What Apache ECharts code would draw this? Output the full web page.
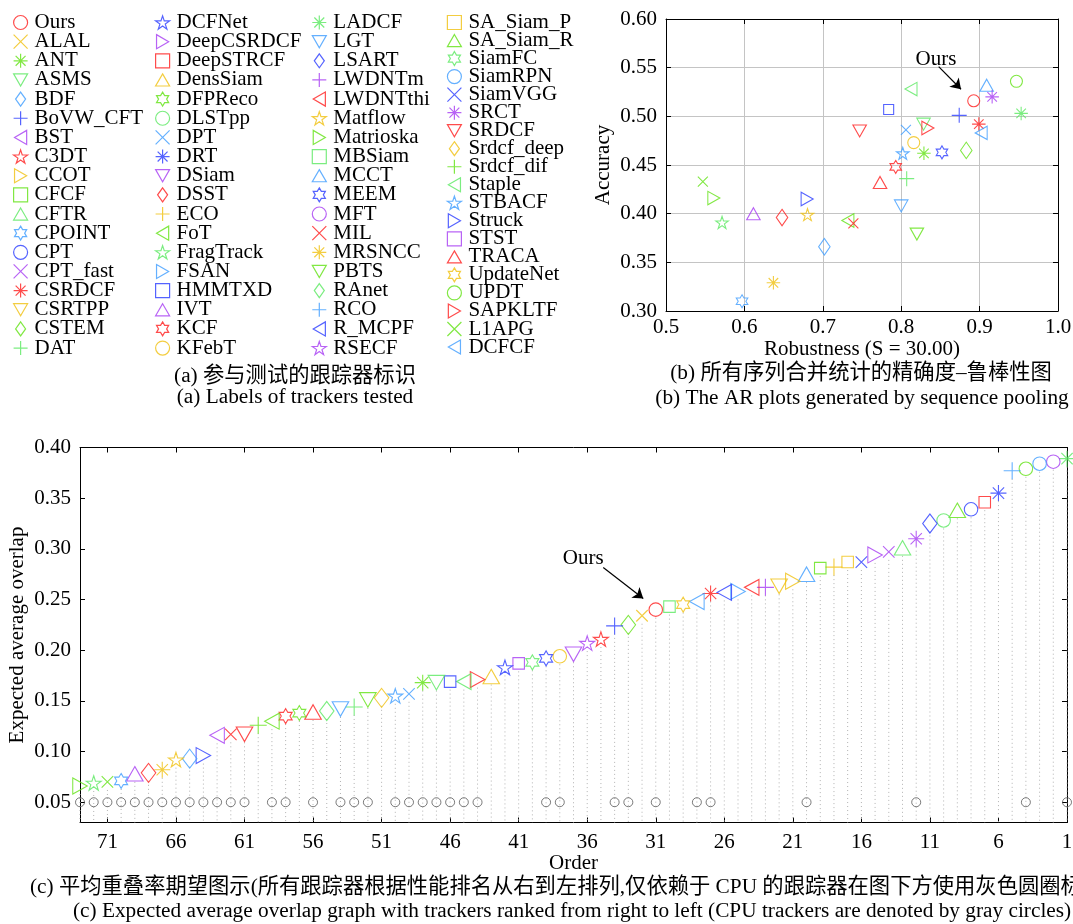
<!DOCTYPE html>
<html><head><meta charset="utf-8">
<script src="https://cdn.jsdelivr.net/npm/echarts@6/dist/echarts.min.js"></script>
<style>html,body{margin:0;padding:0;background:#fff}#c{width:1073px;height:924px}</style>
</head><body><div id="c"></div>
<script>
// ---------------- DATA ----------------
const legendCol1 = ['Ours','ALAL','ANT','ASMS','BDF','BoVW_CFT','BST','C3DT','CCOT','CFCF','CFTR','CPOINT','CPT','CPT_fast','CSRDCF','CSRTPP','CSTEM','DAT'];
const legendCol2 = ['DCFNet','DeepCSRDCF','DeepSTRCF','DensSiam','DFPReco','DLSTpp','DPT','DRT','DSiam','DSST','ECO','FoT','FragTrack','FSAN','HMMTXD','IVT','KCF','KFebT'];
const legendCol3 = ['LADCF','LGT','LSART','LWDNTm','LWDNTthi','Matflow','Matrioska','MBSiam','MCCT','MEEM','MFT','MIL','MRSNCC','PBTS','RAnet','RCO','R_MCPF','RSECF'];
const legendCol4 = ['SA_Siam_P','SA_Siam_R','SiamFC','SiamRPN','SiamVGG','SRCT','SRDCF','Srdcf_deep','Srdcf_dif','Staple','STBACF','Struck','STST','TRACA','UpdateNet','UPDT','SAPKLTF','L1APG','DCFCF'];

// EAO ranking (rank 1 .. 73)
const eaoOrder = ['LADCF','MFT','SiamRPN','UPDT','RCO','DRT','DeepSTRCF','CPT','SA_Siam_R','DLSTpp',
  'LSART','SRCT','CFTR','CPT_fast','DeepCSRDCF','SiamVGG','SA_Siam_P','ECO','CFCF','MCCT',
  'CCOT','CSRTPP','LWDNTm','LWDNTthi','FSAN','R_MCPF','CSRDCF','DCFCF','UpdateNet','MBSiam',
  'Ours','ALAL','CSTEM','BoVW_CFT','C3DT','RSECF','DSiam','KFebT','MEEM','SiamFC',
  'STST','DCFNet','DensSiam','SAPKLTF','Staple','HMMTXD','ASMS','ANT','DPT','STBACF',
  'Srdcf_deep','PBTS','DAT','LGT','RAnet','TRACA','DFPReco','KCF','FoT','Srdcf_dif',
  'SRDCF','MIL','BST','Struck','BDF','Matflow','MRSNCC','DSST','IVT','CPOINT',
  'L1APG','FragTrack','Matrioska'];
const eaoValues = [0.389,0.386,0.384,0.379,0.377,0.355,0.346,0.339,0.338,0.328,
  0.325,0.310,0.301,0.297,0.294,0.287,0.287,0.282,0.281,0.275,
  0.268,0.263,0.262,0.262,0.258,0.257,0.256,0.248,0.245,0.243,
  0.240,0.234,0.225,0.224,0.211,0.207,0.196,0.194,0.192,0.188,
  0.187,0.183,0.174,0.171,0.169,0.169,0.168,0.168,0.157,0.155,
  0.153,0.151,0.144,0.142,0.140,0.139,0.138,0.135,0.130,0.126,
  0.117,0.117,0.116,0.096,0.093,0.092,0.082,0.079,0.078,0.071,
  0.070,0.069,0.066];
// ranks of trackers that run on CPU only (gray circles)
const cpuRanks = [1,4,12,20,27,28,31,33,34,38,39,44,45,46,47,48,49,50,52,53,54,56,58,59,61,62,63,64,65,66,67,68,69,70,71,72,73];
const cpuLevel = 0.05;

// AR plot (sequence pooling)
const arNames = ['MCCT','UPDT','Staple','Ours','SRCT','LADCF','HMMTXD','BoVW_CFT','CSRDCF','DCFCF',
  'SRDCF','DPT','ASMS','SAPKLTF','KFebT','STBACF','ANT','MEEM','CSTEM','KCF',
  'TRACA','DAT','L1APG','Matrioska','Struck','FragTrack','IVT','DSST','Matflow','BDF',
  'FoT','MIL','LGT','PBTS','MRSNCC','CPOINT'];
const arRobustness = [0.909,0.947,0.8125,0.8925,0.916,0.953,0.784,0.874,0.899,0.902,
  0.747,0.806,0.8285,0.834,0.816,0.802,0.829,0.852,0.883,0.793,
  0.773,0.807,0.547,0.561,0.680,0.5715,0.6115,0.648,0.6805,0.702,
  0.732,0.739,0.800,0.820,0.637,0.597];
const arAccuracy = [0.532,0.536,0.528,0.516,0.520,0.503,0.507,0.501,0.492,0.483,
  0.485,0.486,0.492,0.488,0.473,0.462,0.462,0.463,0.465,0.448,
  0.432,0.436,0.433,0.416,0.415,0.391,0.400,0.396,0.399,0.366,
  0.393,0.390,0.408,0.379,0.329,0.310];

// annotation anchors (data space)
const arNoteText = [0.8444, 0.5589], arNoteTail = [0.8478, 0.5510], arNoteHead = [0.8763, 0.5278];
const eaoNoteText = [36.29, 0.2905], eaoNoteTail = [34.83, 0.2816], eaoNoteHead = [31.91, 0.2510];

// ---------------- STYLE ----------------
const markerOf = {Ours:'o',ALAL:'x',ANT:'*',ASMS:'v',BDF:'d',BoVW_CFT:'+',BST:'<',C3DT:'p',CCOT:'>',CFCF:'s',CFTR:'^',CPOINT:'h',CPT:'o',CPT_fast:'x',CSRDCF:'*',CSRTPP:'v',CSTEM:'d',DAT:'+',
  DCFNet:'p',DeepCSRDCF:'>',DeepSTRCF:'s',DensSiam:'^',DFPReco:'h',DLSTpp:'o',DPT:'x',DRT:'*',DSiam:'v',DSST:'d',ECO:'+',FoT:'<',FragTrack:'p',FSAN:'>',HMMTXD:'s',IVT:'^',KCF:'h',KFebT:'o',
  LADCF:'*',LGT:'v',LSART:'d',LWDNTm:'+',LWDNTthi:'<',Matflow:'p',Matrioska:'>',MBSiam:'s',MCCT:'^',MEEM:'h',MFT:'o',MIL:'x',MRSNCC:'*',PBTS:'v',RAnet:'d',RCO:'+',R_MCPF:'<',RSECF:'p',
  SA_Siam_P:'s',SA_Siam_R:'^',SiamFC:'h',SiamRPN:'o',SiamVGG:'x',SRCT:'*',SRDCF:'v',Srdcf_deep:'d',Srdcf_dif:'+',Staple:'<',STBACF:'p',Struck:'>',STST:'s',TRACA:'^',UpdateNet:'h',UPDT:'o',SAPKLTF:'>',L1APG:'x',DCFCF:'<'};
const colorOf = {Ours:'R',ALAL:'Y',ANT:'C',ASMS:'G',BDF:'L',BoVW_CFT:'B',BST:'P',C3DT:'R',CCOT:'Y',CFCF:'C',CFTR:'G',CPOINT:'L',CPT:'B',CPT_fast:'P',CSRDCF:'R',CSRTPP:'Y',CSTEM:'C',DAT:'G',
  DCFNet:'B',DeepCSRDCF:'P',DeepSTRCF:'R',DensSiam:'Y',DFPReco:'C',DLSTpp:'G',DPT:'L',DRT:'B',DSiam:'P',DSST:'R',ECO:'Y',FoT:'C',FragTrack:'G',FSAN:'L',HMMTXD:'B',IVT:'P',KCF:'R',KFebT:'Y',
  LADCF:'G',LGT:'L',LSART:'B',LWDNTm:'P',LWDNTthi:'R',Matflow:'Y',Matrioska:'C',MBSiam:'G',MCCT:'L',MEEM:'B',MFT:'P',MIL:'R',MRSNCC:'Y',PBTS:'C',RAnet:'G',RCO:'L',R_MCPF:'B',RSECF:'P',
  SA_Siam_P:'Y',SA_Siam_R:'C',SiamFC:'G',SiamRPN:'L',SiamVGG:'B',SRCT:'P',SRDCF:'R',Srdcf_deep:'Y',Srdcf_dif:'C',Staple:'G',STBACF:'L',Struck:'B',STST:'P',TRACA:'R',UpdateNet:'Y',UPDT:'C',SAPKLTF:'R',L1APG:'C',DCFCF:'L'};
const PALETTE = {R:'#ff1e1e',Y:'#f0c010',C:'#62e214',G:'#5ae860',L:'#3d9cff',B:'#2b3cff',P:'#a63cf2'};
const SYM = {
  'o':'circle',
  'x':'path://M0,0L10,10M0,10L10,0',
  '+':'path://M5,0L5,10M0,5L10,5',
  '*':'path://M5,0L5,10M0,5L10,5M1.46,1.46L8.54,8.54M1.46,8.54L8.54,1.46',
  '^':'path://M5,0L10,8.66L0,8.66Z',
  'v':'path://M0,0L10,0L5,8.66Z',
  '<':'path://M8.66,0L8.66,10L0,5Z',
  '>':'path://M0,0L0,10L8.66,5Z',
  'd':'path://M5,0L10,7L5,14L0,7Z',
  's':'path://M0,0L10,0L10,10L0,10Z',
  'p':'path://M50,0L61.23,34.55L97.55,34.55L68.17,55.9L79.39,90.45L50,69.1L20.61,90.45L31.83,55.9L2.45,34.55L38.77,34.55Z',
  'h':'path://M50,0L64.43,25L93.3,25L78.87,50L93.3,75L64.43,75L50,100L35.57,75L6.7,75L21.13,50L6.7,25L35.57,25Z'
};
const AR_SIZE = {'o':12,'x':10,'+':15,'*':13.5,'^':[13.5,12],'v':[13.5,12],'<':[12,13.5],'>':[12,13.5],'d':[11.5,16.5],'s':10,'p':[12.5,12],'h':[11.5,13]};
const EAO_SIZE = {'o':13.5,'x':11.5,'+':17,'*':16,'^':[16.5,14.5],'v':[16.5,14.5],'<':[14.5,16],'>':[14.5,16],'d':[14.5,19],'s':11.5,'p':[15,14.5],'h':[13,15]};
const FONT = '"Liberation Serif", "Times New Roman", serif';
const CJK = '"Liberation Serif", "Noto Sans CJK SC", serif';
const CAP = '21.3px ';
const EAO_YMIN = 0.03, EAO_YMAX = 0.40;

function markerStyle(name){
  return {color:'rgba(0,0,0,0)', borderColor: PALETTE[colorOf[name]], borderWidth: 1.1};
}
function axisBase(extra){
  return Object.assign({
    axisLine:{show:true, onZero:false, lineStyle:{color:'#000', width:1}},
    axisTick:{show:true, inside:true, length:5, lineStyle:{color:'#000', width:1}},
    axisLabel:{show:true, fontFamily:FONT, fontSize:21, color:'#000'},
    splitLine:{show:false},
    nameMoveOverlap:false,
    nameTextStyle:{fontFamily:FONT, fontSize:21, color:'#000'}
  }, extra);
}

const series = [];
// drop lines (EAO)
series.push({
  type:'custom', name:'_drop', xAxisIndex:2, yAxisIndex:2, silent:true, z:1,
  data: eaoOrder.map((n,i)=>[i+1, eaoValues[i]]),
  renderItem:(params, api)=>{
    const t = api.coord([api.value(0), api.value(1)]);
    const b = api.coord([api.value(0), EAO_YMIN]);
    return {type:'line', shape:{x1:t[0], y1:t[1]+8, x2:b[0], y2:b[1]},
      style:{stroke:'#b2b2b2', lineWidth:1, lineDash:[1,3]}};
  }
});
// CPU indicators
series.push({
  type:'scatter', name:'_cpu', xAxisIndex:2, yAxisIndex:2, silent:true, z:2,
  symbol:'circle', symbolSize:9,
  itemStyle:{color:'rgba(0,0,0,0)', borderColor:'#5a5a5a', borderWidth:1},
  data: cpuRanks.map(r=>[r, cpuLevel])
});
// EAO trackers
eaoOrder.forEach((name,i)=>{
  const m = markerOf[name];
  const s = {type:'scatter', name, xAxisIndex:2, yAxisIndex:2, silent:true, z:3,
    symbol:SYM[m], symbolSize:EAO_SIZE[m], symbolKeepAspect:false,
    itemStyle:markerStyle(name), data:[[i+1, eaoValues[i]]]};
  if(name==='Ours'){
    s.markLine = {silent:true, animation:false, symbol:['none','arrow'], symbolSize:10,
      lineStyle:{color:'#000', width:1.2, type:'solid'}, label:{show:false},
      data:[[{coord:eaoNoteTail},{coord:eaoNoteHead}]]};
    s.markPoint = {silent:true, animation:false, symbol:'circle', symbolSize:1,
      itemStyle:{color:'rgba(0,0,0,0)'},
      label:{show:true, position:'inside', formatter:'Ours', fontFamily:FONT, fontSize:21, color:'#000'},
      data:[{coord:eaoNoteText}]};
  }
  series.push(s);
});
// AR trackers
arNames.forEach((name,i)=>{
  const m = markerOf[name];
  const s = {type:'scatter', name, xAxisIndex:0, yAxisIndex:0, silent:true, z:3,
    symbol:SYM[m], symbolSize:AR_SIZE[m], symbolKeepAspect:false,
    itemStyle:markerStyle(name), data:[[arRobustness[i], arAccuracy[i]]]};
  if(name==='Ours'){
    s.markLine = {silent:true, animation:false, symbol:['none','arrow'], symbolSize:10,
      lineStyle:{color:'#000', width:1.2, type:'solid'}, label:{show:false},
      data:[[{coord:arNoteTail},{coord:arNoteHead}]]};
    s.markPoint = {silent:true, animation:false, symbol:'circle', symbolSize:1,
      itemStyle:{color:'rgba(0,0,0,0)'},
      label:{show:true, position:'inside', formatter:'Ours', fontFamily:FONT, fontSize:21, color:'#000'},
      data:[{coord:arNoteText}]};
  }
  series.push(s);
});

function legendBlock(names, left, gap){
  return {data:names, orient:'vertical', left, top:12, padding:0, itemGap:gap,
    itemWidth:14, itemHeight:14, selectedMode:false, symbolKeepAspect:true,
    itemStyle:{borderWidth:1.2},
    textStyle:{fontFamily:FONT, fontSize:21, color:'#000', padding:[0,0,0,2]}};
}

const option = {
  animation:false,
  backgroundColor:'#fff',
  grid:[
    {left:666, top:19, width:392, height:292, containLabel:false, outerBoundsMode:'none'},
    {left:80, top:447.5, width:987, height:375, containLabel:false, outerBoundsMode:'none'}
  ],
  xAxis:[
    axisBase({type:'value', gridIndex:0, position:'bottom', min:0.5, max:1.0, interval:0.1,
      axisLabel:{fontFamily:FONT, fontSize:21, color:'#000', margin:6, formatter:v=>v.toFixed(1)},
      splitLine:{show:true, lineStyle:{color:'#c4c4c4', width:1}},
      name:'Robustness (S = 30.00)', nameLocation:'middle', nameGap:28}),
    axisBase({type:'value', gridIndex:0, position:'top', min:0.5, max:1.0, interval:0.1,
      axisLabel:{show:false}}),
    axisBase({type:'value', gridIndex:1, position:'bottom', min:1, max:73, interval:5, inverse:true,
      axisLabel:{fontFamily:FONT, fontSize:21, color:'#000', margin:9, showMaxLabel:false, formatter:v=>String(Math.round(v))},
      name:'Order', nameLocation:'middle', nameGap:30}),
    axisBase({type:'value', gridIndex:1, position:'top', min:1, max:73, interval:5, inverse:true,
      axisLabel:{show:false}})
  ],
  yAxis:[
    axisBase({type:'value', gridIndex:0, position:'left', min:0.3, max:0.6, interval:0.05,
      axisLabel:{fontFamily:FONT, fontSize:21, color:'#000', margin:9, formatter:v=>v.toFixed(2)},
      splitLine:{show:true, lineStyle:{color:'#c4c4c4', width:1}},
      name:'Accuracy', nameLocation:'middle', nameGap:52, nameRotate:90}),
    axisBase({type:'value', gridIndex:0, position:'right', min:0.3, max:0.6, interval:0.05,
      axisLabel:{show:false}}),
    axisBase({type:'value', gridIndex:1, position:'left', min:EAO_YMIN, max:EAO_YMAX, splitNumber:7,
      axisLabel:{fontFamily:FONT, fontSize:21, color:'#000', margin:9, showMinLabel:false, formatter:v=>v.toFixed(2)},
      name:'Expected average overlap', nameLocation:'middle', nameGap:52, nameRotate:90}),
    axisBase({type:'value', gridIndex:1, position:'right', min:EAO_YMIN, max:EAO_YMAX, splitNumber:7,
      axisLabel:{show:false}})
  ],
  legend:[
    legendBlock(legendCol1, 13, -1.85),
    legendBlock(legendCol2, 155, -1.85),
    legendBlock(legendCol3, 311.7, -1.85),
    legendBlock(legendCol4, 446.8, -2.97)
  ],
  graphic:[
    {type:'text', x:295, y:376, style:{text:'(a) 参与测试的跟踪器标识', font:CAP+CJK, fill:'#000', align:'center', verticalAlign:'middle'}},
    {type:'text', x:295, y:397, style:{text:'(a) Labels of trackers tested', font:CAP+FONT, fill:'#000', align:'center', verticalAlign:'middle'}},
    {type:'text', x:861, y:373, style:{text:'(b) 所有序列合并统计的精确度–鲁棒性图', font:CAP+CJK, fill:'#000', align:'center', verticalAlign:'middle'}},
    {type:'text', x:862, y:398, style:{text:'(b) The AR plots generated by sequence pooling', font:CAP+FONT, fill:'#000', align:'center', verticalAlign:'middle'}},
    {type:'text', x:30, y:887, style:{text:'(c) 平均重叠率期望图示(所有跟踪器根据性能排名从右到左排列,仅依赖于 CPU 的跟踪器在图下方使用灰色圆圈标注)', font:CAP+CJK, fill:'#000', align:'left', verticalAlign:'middle'}},
    {type:'text', x:73, y:911, style:{text:'(c) Expected average overlap graph with trackers ranked from right to left (CPU trackers are denoted by gray circles)', font:CAP+FONT, fill:'#000', align:'left', verticalAlign:'middle'}}
  ],
  series
};
const chart = echarts.init(document.getElementById('c'), null, {renderer:'canvas'});
chart.setOption(option);
</script>
</body></html>
